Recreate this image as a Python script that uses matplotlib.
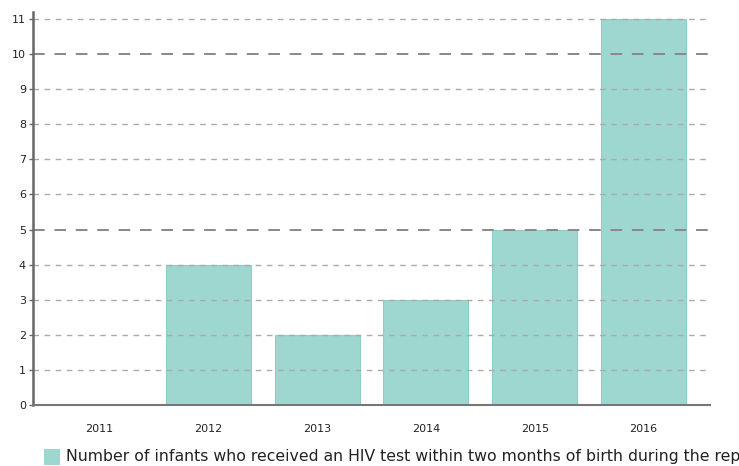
import numpy as np
import matplotlib.pyplot as plt
from matplotlib.patches import Rectangle

years = ['2011', '2012', '2013', '2014', '2015', '2016']
values = [0, 4, 2, 3, 5, 11]
label = 'Number of infants who received an HIV test within two months of birth during the reporting period'

fig = plt.figure(figsize=(7.39, 4.66), dpi=100)
ax = fig.add_axes([33 / 739, 61 / 466, 677 / 739, 393 / 466])

x = np.arange(len(years))
ax.bar(x, values, 0.78, color='#9dd7d0', edgecolor='#8ccfc6', linewidth=0.8, zorder=1)

ax.set_xlim(-0.61, 5.61)
ax.set_ylim(0, 11.2)
ax.set_yticks(range(12))
ax.set_xticks(x)
ax.set_xticklabels(years)

# lekkie linie co 1, ciemniejsze co 5
for v in range(12):
    if v % 5 == 0:
        continue
    ax.axhline(v, color='#aaaaaa', lw=1, ls=(0, (4, 4)), zorder=2)
for v in [5, 10]:
    ax.axhline(v, color='#888888', lw=1.4, ls=(0, (6, 5)), zorder=2)

for s in ['top', 'right']:
    ax.spines[s].set_visible(False)
ax.spines['left'].set_color('#666666')
ax.spines['left'].set_linewidth(1.8)
ax.spines['bottom'].set_color('#777777')
ax.spines['bottom'].set_linewidth(1.5)
ax.spines['bottom'].set_zorder(3)

ax.tick_params(axis='y', length=3, width=1, color='#666666', labelsize=8, pad=2, labelcolor='#222222')
ax.tick_params(axis='x', length=0, labelsize=8, pad=14, labelcolor='#222222')

# legenda na dole (w oryginale tekst jest ucięty prawą krawędzią)
fig.patches.append(Rectangle((44 / 739, 1 / 466), 16 / 739, 16 / 466, transform=fig.transFigure,
                             facecolor='#9dd7d0', edgecolor='none'))
fig.text(66 / 739, 9 / 466, label, fontsize=11.3, va='center', ha='left', color='#222222')

plt.savefig('out.png', dpi=100)
